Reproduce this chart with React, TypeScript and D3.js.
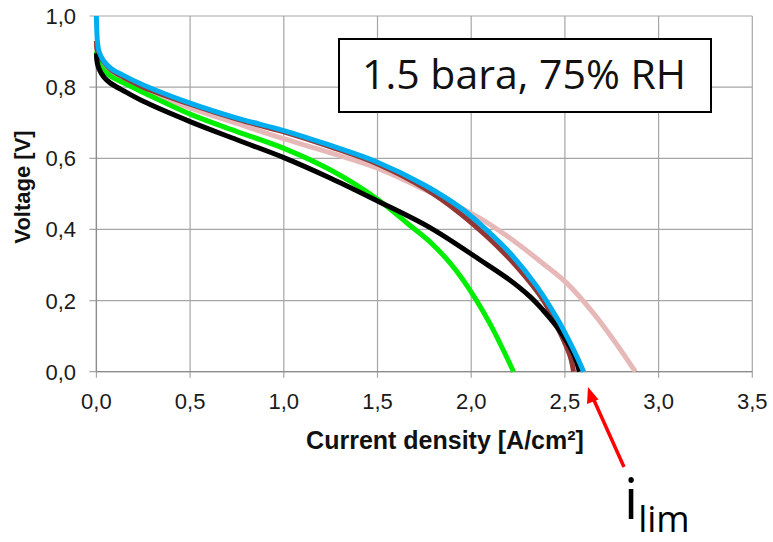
import React from "react";
import * as d3 from "d3";

const xTicks = [0, 0.5, 1.0, 1.5, 2.0, 2.5, 3.0, 3.5];
const yTicks = [0, 0.2, 0.4, 0.6, 0.8, 1.0];

const blueJ = [0, 0.002, 0.006, 0.014, 0.037, 0.08, 0.144, 0.25, 0.5, 0.75, 1.0, 1.25, 1.5, 1.75, 1.94, 2.048, 2.208, 2.35, 2.458, 2.546, 2.6];
const blueV = [1.0, 0.96, 0.925, 0.9, 0.875, 0.852, 0.833, 0.806, 0.755, 0.713, 0.678, 0.636, 0.589, 0.525, 0.462, 0.415, 0.333, 0.24, 0.15, 0.062, 0.0];

const pinkJ = [0, 0.004, 0.014, 0.04, 0.1, 0.25, 0.5, 0.75, 1.0, 1.25, 1.5, 1.75, 1.94, 2.048, 2.208, 2.386, 2.51, 2.653, 2.76, 2.876];
const pinkV = [0.93, 0.9, 0.882, 0.865, 0.835, 0.79, 0.742, 0.698, 0.655, 0.615, 0.572, 0.512, 0.462, 0.431, 0.375, 0.303, 0.249, 0.164, 0.089, 0.0];

const brownJ = [0, 0.004, 0.014, 0.037, 0.08, 0.144, 0.25, 0.5, 0.75, 1.0, 1.25, 1.5, 1.75, 1.941, 2.084, 2.244, 2.386, 2.476, 2.529, 2.546];
const brownV = [0.93, 0.905, 0.89, 0.872, 0.848, 0.828, 0.8, 0.752, 0.71, 0.674, 0.632, 0.584, 0.516, 0.445, 0.38, 0.295, 0.2, 0.108, 0.042, 0.0];

const greenJ = [0, 0.005, 0.02, 0.073, 0.144, 0.25, 0.5, 0.75, 1.0, 1.25, 1.5, 1.657, 1.78, 1.888, 1.995, 2.1, 2.226];
const greenV = [0.9, 0.88, 0.86, 0.832, 0.812, 0.785, 0.724, 0.675, 0.628, 0.567, 0.485, 0.418, 0.365, 0.305, 0.228, 0.135, 0.0];

const blackJ = [0, 0.004, 0.015, 0.04, 0.073, 0.144, 0.25, 0.5, 0.75, 1.0, 1.25, 1.5, 1.78, 2.048, 2.2, 2.314, 2.38, 2.456, 2.545, 2.577];
const blackV = [0.895, 0.87, 0.85, 0.828, 0.812, 0.79, 0.76, 0.703, 0.652, 0.602, 0.544, 0.48, 0.405, 0.314, 0.26, 0.211, 0.175, 0.127, 0.052, 0.0];

const series = [
  { name: "pink", j: pinkJ, v: pinkV, color: "#e6b9b8" },
  { name: "green", j: greenJ, v: greenV, color: "#00ee00" },
  { name: "brown", j: brownJ, v: brownV, color: "#943634" },
  { name: "black", j: blackJ, v: blackV, color: "#000000" },
  { name: "blue", j: blueJ, v: blueV, color: "#00aeef" },
];

const fmt = (d: number) => d.toFixed(1).replace(".", ",");

export default function App() {
  const x = d3.scaleLinear().domain([0, 3.5]).range([96.4, 752.3]);
  const y = d3.scaleLinear().domain([0, 1]).range([371.7, 16]);
  const line = d3
    .line<[number, number]>()
    .x((d) => x(d[0]))
    .y((d) => y(d[1]))
    .curve(d3.curveCatmullRom.alpha(0.5));

  const gridColor = "#a6a6a6";
  const tickFont = "'Liberation Sans', Arial, sans-serif";

  return (
    <svg
      width={773}
      height={542}
      style={{ position: "absolute", left: 0, top: 0, background: "#fff" }}
    >
      <rect x={0} y={0} width={773} height={542} fill="#fff" />
      {xTicks.map((t) => (
        <line key={"gx" + t} x1={x(t)} x2={x(t)} y1={y(1)} y2={y(0) + 6} stroke={gridColor} strokeWidth={1.2} />
      ))}
      {yTicks.map((t) => (
        <line key={"gy" + t} x1={x(0) - 7} x2={x(3.5)} y1={y(t)} y2={y(t)} stroke={gridColor} strokeWidth={1.2} />
      ))}
      <line x1={x(0)} x2={x(0)} y1={y(1)} y2={y(0)} stroke="#8c8c8c" strokeWidth={1.3} />
      <line x1={x(0)} x2={x(3.5)} y1={y(0)} y2={y(0)} stroke="#8c8c8c" strokeWidth={1.3} />
      {yTicks.map((t) => (
        <text key={"ly" + t} x={76} y={y(t) + 8} textAnchor="end" fontFamily={tickFont} fontSize={22} fill="#1a1a1a">
          {fmt(t)}
        </text>
      ))}
      {xTicks.map((t) => (
        <text key={"lx" + t} x={x(t)} y={409} textAnchor="middle" fontFamily={tickFont} fontSize={22} fill="#1a1a1a">
          {fmt(t)}
        </text>
      ))}
      <text x={445} y={449} textAnchor="middle" fontFamily={tickFont} fontWeight="bold" fontSize={25} fill="#111">
        Current density [A/cm²]
      </text>
      <text
        transform={`translate(30,187) rotate(-90)`}
        textAnchor="middle"
        fontFamily={tickFont}
        fontWeight="bold"
        fontSize={22}
        fill="#111"
      >
        Voltage [V]
      </text>
      {series.map((s) => (
        <path
          key={s.name}
          d={line(s.j.map((jj, i) => [jj, s.v[i]] as [number, number])) || ""}
          fill="none"
          stroke={s.color}
          strokeWidth={5}
          strokeLinejoin="round"
          strokeLinecap="butt"
        />
      ))}
      <rect x={339} y={39} width={372} height={73} fill="#fff" stroke="#000" strokeWidth={2} />
      <text x={524} y={89} textAnchor="middle" fontFamily="'Open Sans', 'Noto Sans', sans-serif" fontSize={41} fill="#111">
        1.5 bara, 75% RH
      </text>
      <line x1={624} y1={467} x2={593} y2={398} stroke="#ff0000" strokeWidth={3.5} />
      <polygon points="588,387 598.5,399.5 587,404" fill="#ff0000" />
      <text x={624} y={519} fontFamily="'Open Sans', 'Noto Sans', sans-serif" fontSize={56} fill="#000">
        i
        <tspan fontSize={36} dy={13}>lim</tspan>
      </text>
    </svg>
  );
}
